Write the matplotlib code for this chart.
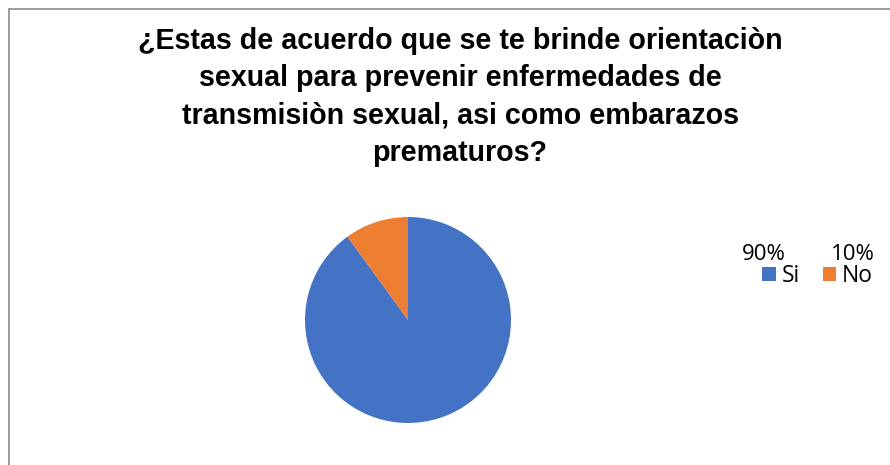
import matplotlib.pyplot as plt
from matplotlib.patches import Rectangle

# data
categories = ["Si", "No"]
values = [90, 10]
colors = ["#4472C4", "#ED7D31"]
title = ("¿Estas de acuerdo que se te brinde orientaciòn\n"
         "sexual para prevenir enfermedades de\n"
         "transmisiòn sexual, asi como embarazos\n"
         "prematuros?")

W, H = 890, 465
fig = plt.figure(figsize=(W / 100, H / 100), dpi=100)

# chart border (only left and top visible, rest runs off the image)
fig.patches.append(Rectangle((9 / W, -0.1), 1.2, 1 - 9 / H + 0.1,
                             transform=fig.transFigure, fill=False,
                             edgecolor="#8c8c8c", linewidth=1.2))

fig.text(460 / W, 1 - 97 / H, title, ha="center", va="center",
         fontsize=20.6, fontweight="bold", family="Liberation Sans",
         linespacing=1.41)

# pie
r = 103
cx, cy = 408, 320
ax = fig.add_axes([(cx - r) / W, (H - cy - r) / H, 2 * r / W, 2 * r / H])
wedges, _ = ax.pie(values, colors=colors, startangle=90, counterclock=False,
                   radius=1, wedgeprops=dict(linewidth=0))
ax.set_xlim(-1, 1)
ax.set_ylim(-1, 1)
ax.set_aspect("equal")
ax.axis("off")

# legend with percentages above entries
leg = fig.legend(wedges, categories, loc="center left",
                 bbox_to_anchor=(762 / W, 1 - 276 / H), ncol=2,
                 frameon=False, handlelength=0.6,
                 handleheight=0.6, handletextpad=0.25, columnspacing=1.0,
                 borderpad=0, borderaxespad=0,
                 prop=dict(family="Open Sans", size=16.5))
total = sum(values)
pct_x = [764, 853]
for x, v in zip(pct_x, values):
    fig.text(x / W, 1 - 254 / H, f"{round(100 * v / total)}%",
             ha="center", va="center", fontsize=16, family="Open Sans")

fig.savefig("out.png", dpi=100)
